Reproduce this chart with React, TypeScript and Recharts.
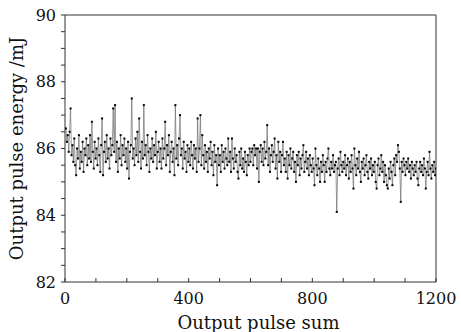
import React from 'react';
import { LineChart, Line, XAxis, YAxis } from 'recharts';

// Output pulse energy (mJ), sampled every 3rd pulse
const energyA = [
  86.6, 86.2, 86.4, 85.9, 86.5, 87.2, 85.8, 86.1, 85.6, 86.3,
  85.5, 85.2, 86.0, 85.7, 86.4, 85.4, 85.9, 85.6, 86.2, 85.3,
  86.0, 85.8, 86.3, 85.5, 86.1, 85.7, 86.4, 85.6, 86.8, 85.9,
  85.4, 86.2, 85.7, 86.0, 85.5, 86.3, 85.8, 85.3, 86.1, 86.9,
  85.2, 85.9, 86.2, 85.6, 86.4, 85.7, 86.0, 85.4, 86.3, 85.8,
  86.1, 87.2, 85.9, 87.3, 85.6, 86.2, 85.3, 86.0, 85.7, 86.4,
  85.5, 86.1, 85.8, 86.3, 85.6, 86.0, 85.4, 86.2, 85.1, 85.9,
  86.1, 87.5, 85.7, 86.0, 85.5, 86.3, 85.8, 86.5, 85.6, 86.9,
  85.9, 85.4, 86.2, 85.7, 87.3, 85.8, 86.1, 85.5, 86.4, 85.9,
  85.3, 86.0, 85.7, 86.3, 85.6, 86.1, 85.8, 86.5, 85.4, 85.9,
];
const energyB = [
  86.2, 85.6, 86.0, 85.4, 86.3, 85.7, 86.0, 86.8, 85.5, 86.1,
  85.8, 86.4, 85.3, 85.9, 86.2, 85.6, 86.0, 85.2, 87.3, 85.7,
  86.1, 85.5, 86.3, 87.0, 85.8, 86.0, 85.4, 86.2, 85.7, 85.9,
  85.3, 86.1, 85.6, 86.0, 85.5, 86.2, 85.8, 85.4, 86.1, 85.7,
  86.0, 85.3, 86.9, 85.6, 86.0, 87.0, 85.5, 86.4, 85.8, 85.4,
  86.1, 85.6, 85.9, 85.3, 86.0, 85.7, 86.2, 85.5, 85.9, 85.2,
  86.1, 85.6, 85.8, 84.9, 86.0, 85.5, 85.8, 85.3, 86.1, 85.6,
  85.9, 85.4, 86.0, 85.7, 85.5, 86.3, 85.6, 85.9, 85.3, 86.3,
  85.7, 85.4, 86.0, 85.6, 85.8, 85.3, 85.1, 85.9, 85.5, 86.0,
  85.4, 85.7, 85.3, 85.9, 85.6, 85.2, 85.8, 85.5, 86.0, 85.6,
];
const energyC = [
  85.9, 86.0, 85.5, 86.1, 85.8, 86.0, 85.4, 86.0, 85.0, 85.9,
  86.1, 85.6, 86.0, 85.5, 86.2, 85.7, 85.9, 86.7, 85.5, 86.0,
  85.3, 85.8, 86.1, 85.6, 85.9, 86.3, 85.4, 85.8, 85.1, 86.2,
  85.6, 85.9, 85.3, 85.8, 86.2, 85.5, 85.7, 85.3, 85.9, 85.1,
  85.8, 85.5, 86.0, 85.4, 85.7, 85.9, 85.3, 85.6, 85.0, 85.8,
  85.5, 85.9, 85.2, 85.7, 85.4, 85.8, 86.1, 85.3, 85.6, 85.9,
  85.4, 85.7, 85.2, 85.8, 85.5, 85.3, 85.7, 85.4, 84.9, 86.0,
  85.5, 85.2, 85.7, 85.4, 85.0, 85.6, 85.3, 85.8, 85.5, 85.0,
  85.6, 85.3, 85.7, 86.0, 85.4, 85.2, 85.6, 85.4, 85.8, 85.3,
  85.5, 85.6, 84.1, 85.4, 85.7, 85.2, 85.9, 85.5, 85.3, 85.6,
];
const energyD = [
  85.4, 85.8, 85.2, 85.5, 85.7, 85.1, 85.6, 85.3, 85.8, 85.4,
  84.8, 86.0, 85.5, 85.2, 85.7, 85.4, 85.9, 85.3, 85.0, 85.6,
  85.4, 85.7, 85.2, 85.5, 85.8, 85.3, 85.1, 85.6, 85.4, 85.7,
  85.2, 85.5, 85.3, 85.6, 85.0, 84.8, 85.5, 85.7, 85.2, 85.4,
  85.8, 85.3, 85.6, 85.0, 85.5, 85.2, 84.9, 84.8, 85.4, 85.1,
  85.6, 85.3, 84.9, 85.5, 85.7, 85.2, 85.8, 85.6, 86.1, 85.9,
  85.4, 84.4, 85.6, 85.3, 85.7, 85.5, 85.2, 85.6, 85.4, 85.7,
  85.3, 85.5, 85.1, 85.6, 85.4, 85.2, 85.5, 85.3, 85.6, 85.1,
  84.9, 85.4, 85.6, 85.3, 85.5, 85.2, 85.7, 85.4, 84.8, 85.3,
  85.6, 85.2, 85.9, 85.4, 85.1, 85.5, 85.3, 85.6, 85.2, 85.4,
];

const PULSE_STEP = 3;
const xTicks = [0, 100, 200, 300, 400, 500, 600, 700, 800, 900, 1000, 1100, 1200];
const xLabels = [0, 400, 800, 1200];
const yTicks = [82, 82.5, 83, 83.5, 84, 84.5, 85, 85.5, 86, 86.5, 87, 87.5, 88, 88.5, 89, 89.5, 90];
const yLabels = [82, 84, 86, 88, 90];

const data = [energyA, energyB, energyC, energyD]
  .flat()
  .map((e, i) => ({ pulse: (i + 1) * PULSE_STEP, energy: e }));

const FONT = '"DejaVu Serif", serif';
const AXIS = '#333';
const TEXT = '#111';

const Dot = (props: any) => {
  const { cx, cy, index } = props;
  if (cx == null || cy == null) return <g key={`d${index}`} />;
  return <rect key={`d${index}`} x={cx - 1} y={cy - 1} width={2} height={2} fill="#000" />;
};

export default function App() {
  return (
    <div style={{ position: 'absolute', left: 0, top: 0, width: 461, height: 332, background: '#fff' }}>
      <LineChart width={461} height={332} data={data} margin={{ top: 14, right: 24, bottom: 0, left: 0 }}>
        <XAxis
          xAxisId="bottom"
          dataKey="pulse"
          type="number"
          domain={[0, 1200]}
          ticks={xTicks}
          interval={0}
          allowDataOverflow
          height={50}
          tickSize={-4}
          tickMargin={15}
          stroke={AXIS}
          tick={{ fontFamily: FONT, fontSize: 16, fill: TEXT }}
          tickFormatter={(v: number) => (xLabels.includes(v) ? String(v) : '')}
          label={{ value: 'Output pulse sum', position: 'insideBottom', offset: 3, dx: 8, style: { fontFamily: FONT, fontSize: 18, fill: TEXT } }}
        />
        <XAxis
          xAxisId="top"
          orientation="top"
          type="number"
          domain={[0, 1200]}
          ticks={xTicks}
          interval={0}
          allowDataOverflow
          height={1}
          tickSize={-4}
          stroke={AXIS}
          tick={false}
        />
        <YAxis
          yAxisId="left"
          type="number"
          domain={[82, 90]}
          ticks={yTicks}
          interval={0}
          allowDataOverflow
          width={65}
          tickSize={4}
          tickMargin={5}
          stroke={AXIS}
          tick={{ fontFamily: FONT, fontSize: 16, fill: TEXT }}
          tickFormatter={(v: number) => (yLabels.includes(v) ? String(v) : '')}
          label={{ value: 'Output pulse energy /mJ', angle: -90, position: 'insideLeft', offset: 17, style: { fontFamily: FONT, fontSize: 18, fill: TEXT, textAnchor: 'middle' } }}
        />
        <YAxis
          yAxisId="right"
          orientation="right"
          type="number"
          domain={[82, 90]}
          ticks={yTicks}
          interval={0}
          allowDataOverflow
          width={1}
          tickSize={-4}
          stroke={AXIS}
          tick={false}
        />
        <Line
          xAxisId="bottom"
          yAxisId="left"
          type="linear"
          dataKey="energy"
          stroke="#6e6e6e"
          strokeWidth={0.7}
          dot={Dot}
          activeDot={false}
          isAnimationActive={false}
        />
      </LineChart>
    </div>
  );
}
